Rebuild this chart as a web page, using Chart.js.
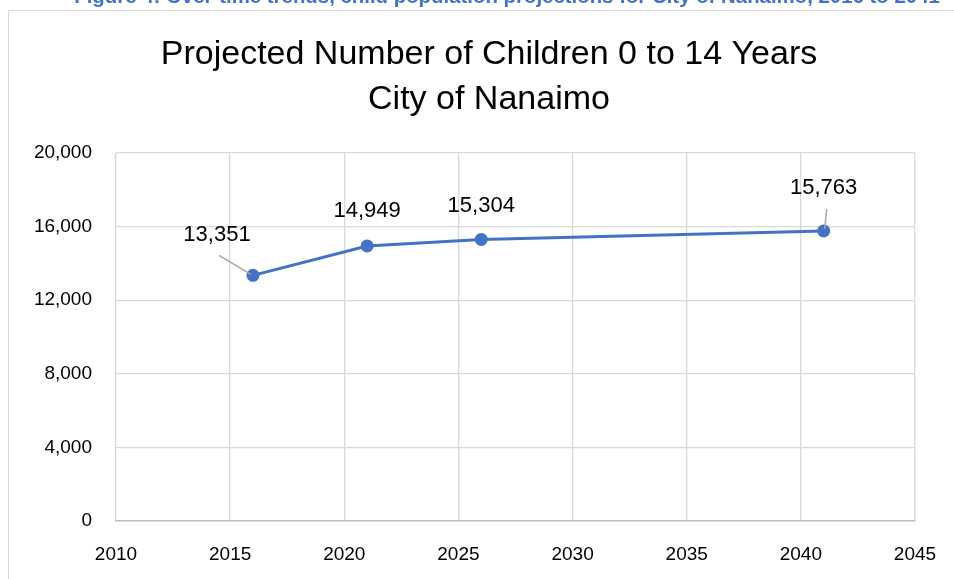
<!DOCTYPE html>
<html><head><meta charset="utf-8">
<script src="https://cdn.jsdelivr.net/npm/chart.js@4/dist/chart.umd.min.js"></script>
<style>html,body{margin:0;padding:0;background:#fff;}#wrap{width:954px;height:579px;position:relative;}</style>
</head><body><div id="wrap"><canvas id="c" width="954" height="579"></canvas></div>
<script>
const years = [2016, 2021, 2026, 2041];
const children = [13351, 14949, 15304, 15763];
const titleLines = ['Projected Number of Children 0 to 14 Years', 'City of Nanaimo'];
const caption = 'Figure 4: Over-time trends, child population projections for City of Nanaimo, 2016 to 2041';
const xTicks = [2010, 2015, 2020, 2025, 2030, 2035, 2040, 2045];
const yTicks = [0, 4000, 8000, 12000, 16000, 20000];

const FONT = "'Liberation Sans', Arial, sans-serif";
const labelOffsets = [[-36, -40, true], [0, -35, false], [0, -33, false], [0, -43, true]];

const decor = {
  id: 'decor',
  beforeDraw(chart) {
    const ctx = chart.ctx;
    ctx.save();
    ctx.fillStyle = '#fff';
    ctx.fillRect(0, 0, chart.width, chart.height);
    ctx.strokeStyle = '#d9d9d9';
    ctx.lineWidth = 1;
    ctx.beginPath();
    ctx.moveTo(8.5, chart.height);
    ctx.lineTo(8.5, 10.5);
    ctx.lineTo(chart.width, 10.5);
    ctx.stroke();
    ctx.fillStyle = '#4472C4';
    ctx.font = 'bold 20.4px ' + FONT;
    ctx.textAlign = 'center';
    ctx.textBaseline = 'alphabetic';
    ctx.fillText(caption, 507, 3);
    ctx.fillStyle = '#000';
    ctx.textBaseline = 'middle';
    ctx.font = '34px ' + FONT;
    ctx.fillText(titleLines[0], 489, 55);
    ctx.fillText(titleLines[1], 489, 100);
    ctx.restore();
  },
  afterDatasetsDraw(chart) {
    const ctx = chart.ctx;
    const meta = chart.getDatasetMeta(0);
    ctx.save();
    ctx.font = '22px ' + FONT;
    ctx.textAlign = 'center';
    ctx.textBaseline = 'middle';
    meta.data.forEach((pt, i) => {
      const [dx, dy, leader] = labelOffsets[i];
      const lx = pt.x + dx, ly = pt.y + dy;
      if (leader) {
        ctx.strokeStyle = '#a6a6a6';
        ctx.lineWidth = 1.5;
        ctx.beginPath();
        if (dx < 0) { ctx.moveTo(lx + 2, ly + 20); ctx.lineTo(pt.x - 2, pt.y - 1); }
        else { ctx.moveTo(lx + 3, ly + 21); ctx.lineTo(pt.x + 1, pt.y - 2); }
        ctx.stroke();
      }
      ctx.fillStyle = '#000';
      ctx.fillText(children[i].toLocaleString('en-US'), lx, ly);
    });
    ctx.restore();
  }
};

new Chart(document.getElementById('c'), {
  type: 'line',
  data: {
    datasets: [{
      data: years.map((y, i) => ({x: y, y: children[i]})),
      borderColor: '#4472C4',
      backgroundColor: '#4472C4',
      borderWidth: 3,
      pointRadius: 6.5,
      pointBorderWidth: 0,
      tension: 0
    }]
  },
  options: {
    responsive: false,
    animation: false,
    layout: {padding: {left: 0, right: 39, top: 153, bottom: 0}},
    plugins: {legend: {display: false}, tooltip: {enabled: false}, title: {display: false}},
    scales: {
      x: {
        type: 'linear', min: 2010, max: 2045,
        afterBuildTicks: s => { s.ticks = xTicks.map(v => ({value: v})); },
        afterFit: s => { s.height = 58; s.paddingLeft = 0; s.paddingRight = 0; },
        grid: {color: '#d9d9d9', lineWidth: 1.3, drawTicks: false},
        border: {color: '#bfbfbf', width: 1.5},
        ticks: {color: '#000', font: {family: FONT, size: 19}, padding: 22, maxRotation: 0, callback: v => String(v)}
      },
      y: {
        min: 0, max: 20000,
        afterBuildTicks: s => { s.ticks = yTicks.map(v => ({value: v})); },
        afterFit: s => { s.width = 116; s.paddingTop = 0; s.paddingBottom = 0; },
        grid: {color: '#d9d9d9', lineWidth: 1.3, drawTicks: false},
        border: {display: false},
        ticks: {color: '#000', font: {family: FONT, size: 19}, padding: 24, callback: v => v.toLocaleString('en-US')}
      }
    }
  },
  plugins: [decor]
});
</script></body></html>
